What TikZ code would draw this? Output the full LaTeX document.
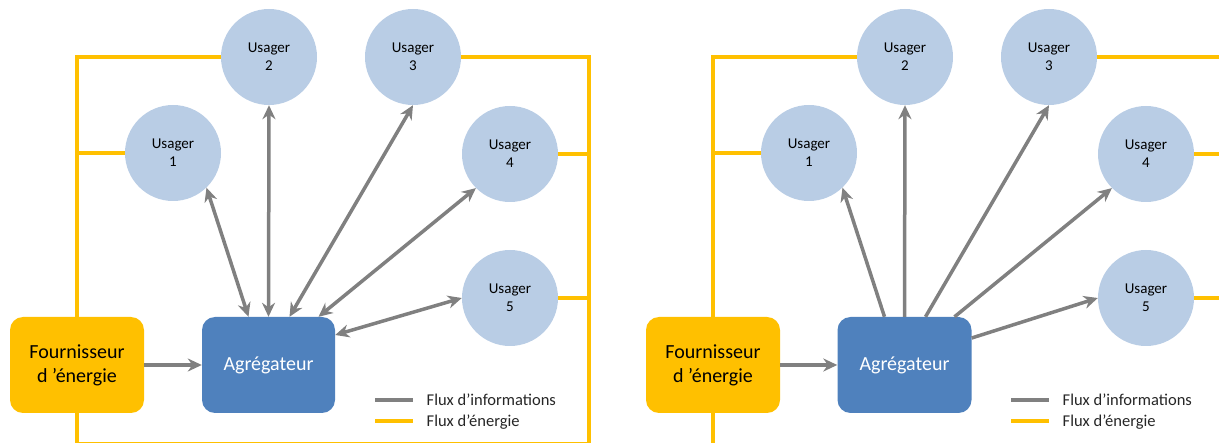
\documentclass[tikz,border=0pt]{standalone}
\usepackage{fontspec}
\setmainfont{Carlito}
\usetikzlibrary{arrows.meta,calc,backgrounds}
\definecolor{ayellow}{HTML}{FFC000}
\definecolor{ablue}{HTML}{4F81BD}
\definecolor{alight}{HTML}{B9CDE5}
\definecolor{agray}{HTML}{808080}
\tikzset{
 usager/.style={circle, fill=alight, minimum size=96pt, inner sep=0pt, align=center,
   font=\fontsize{15}{18}\selectfont, text=black},
 box/.style={rectangle, rounded corners=13pt, minimum width=134pt, minimum height=96pt,
   inner sep=0pt, align=center, font=\fontsize{20}{24}\selectfont},
 energy/.style={draw=ayellow, line width=3.5pt},
 info/.style={draw=agray, line width=3.5pt, >={Stealth[length=14pt,width=13pt]}},
 legtext/.style={anchor=base west, inner sep=0pt, font=\fontsize{16.5}{20}\selectfont, text=black!85},
}
\begin{document}
\begin{tikzpicture}[x=1pt,y=-1pt]
\useasboundingbox (0,0) rectangle (1219,443);

% ---------------- left diagram ----------------
\node[usager] (lu1) at (173,153) {Usager\\1};
\node[usager] (lu2) at (269,57) {Usager\\2};
\node[usager] (lu3) at (413,57) {Usager\\3};
\node[usager] (lu4) at (510,154) {Usager\\4};
\node[usager] (lu5) at (510,298) {Usager\\5};
\node[box, fill=ayellow, text=black] (lfour) at (77,365) {Fournisseur\\d ’énergie};
\node[box, fill=ablue, text=white, minimum width=133pt] (lagr) at (268.5,365) {Agrégateur};
\coordinate (ltl) at (77,57);
\coordinate (lbl) at (77,444);
\coordinate (lbr) at (589,444);
\coordinate (ltr) at (589,57);
\begin{pgfonlayer}{background}
 \draw[energy] (lu2.west) -- (ltl) -- (lfour.north);
 \draw[energy] (lfour.south) -- (lbl) -- (lbr) -- (ltr) -- (lu3.east);
 \draw[energy] (lu1.west) -- (lu1.west -| ltl);
 \draw[energy] (lu4.east) -- (lu4.east -| ltr);
 \draw[energy] (lu5.east) -- (lu5.east -| ltr);
\end{pgfonlayer}
\draw[info,->] (lfour.east) -- (lagr.west);
\draw[info,<->] (lu1.-46) -- ($(lagr.north)+(-20,0)$);
\draw[info,<->] (lu2.south) -- (lagr.north);
\draw[info,<->] (lu3.south) -- ($(lagr.north)+(21,0)$);
\draw[info,<->] (lu4.-135) -- ($(lagr.north)+(50,0)$);
\draw[info,<->] (lu5.west) -- ($(lagr.east)+(0,-30)$);
\coordinate (lg1) at (375,400);
\coordinate (lg2) at (413,400);
\coordinate (lg3) at (375,421);
\coordinate (lg4) at (413,421);
\draw[info, line width=4pt] (lg1) -- (lg2);
\draw[energy, line width=3.5pt] (lg3) -- (lg4);
\node[legtext] (llt1) at (426.5,405.5) {Flux d’informations};
\node[legtext] (llt2) at (426.5,427) {Flux d’énergie};

% ---------------- right diagram ----------------
\begin{scope}[shift={(636,0)}]
\node[usager] (ru1) at (173,153) {Usager\\1};
\node[usager] (ru2) at (269,57) {Usager\\2};
\node[usager] (ru3) at (413,57) {Usager\\3};
\node[usager] (ru4) at (510,154) {Usager\\4};
\node[usager] (ru5) at (510,298) {Usager\\5};
\node[box, fill=ayellow, text=black] (rfour) at (77,365) {Fournisseur\\d ’énergie};
\node[box, fill=ablue, text=white, minimum width=134pt] (ragr) at (268.5,365) {Agrégateur};
\coordinate (rtl) at (77,57);
\coordinate (rbl) at (77,445);
\coordinate (rbr) at (589,445);
\coordinate (rtr) at (589,57);
\begin{pgfonlayer}{background}
 \draw[energy] (ru2.west) -- (rtl) -- (rfour.north);
 \draw[energy] (rfour.south) -- (rbl) -- (rbr) -- (rtr) -- (ru3.east);
 \draw[energy] (ru1.west) -- (ru1.west -| rtl);
 \draw[energy] (ru4.east) -- (ru4.east -| rtr);
 \draw[energy] (ru5.east) -- (ru5.east -| rtr);
\end{pgfonlayer}
\draw[info,->] (rfour.east) -- (ragr.west);
\draw[info,->] ($(ragr.north)+(-20,0)$) -- (ru1.-46);
\draw[info,->] (ragr.north) -- (ru2.south);
\draw[info,->] ($(ragr.north)+(21,0)$) -- (ru3.south);
\draw[info,->] ($(ragr.north)+(50,0)$) -- (ru4.-135);
\draw[info,->] ($(ragr.east)+(0,-27)$) -- (ru5.west);
\coordinate (rg1) at (375,400);
\coordinate (rg2) at (413,400);
\coordinate (rg3) at (375,421);
\coordinate (rg4) at (413,421);
\draw[info, line width=4pt] (rg1) -- (rg2);
\draw[energy, line width=3.5pt] (rg3) -- (rg4);
\node[legtext] (rlt1) at (426.5,405.5) {Flux d’informations};
\node[legtext] (rlt2) at (426.5,427) {Flux d’énergie};
\end{scope}
\end{tikzpicture}
\end{document}
